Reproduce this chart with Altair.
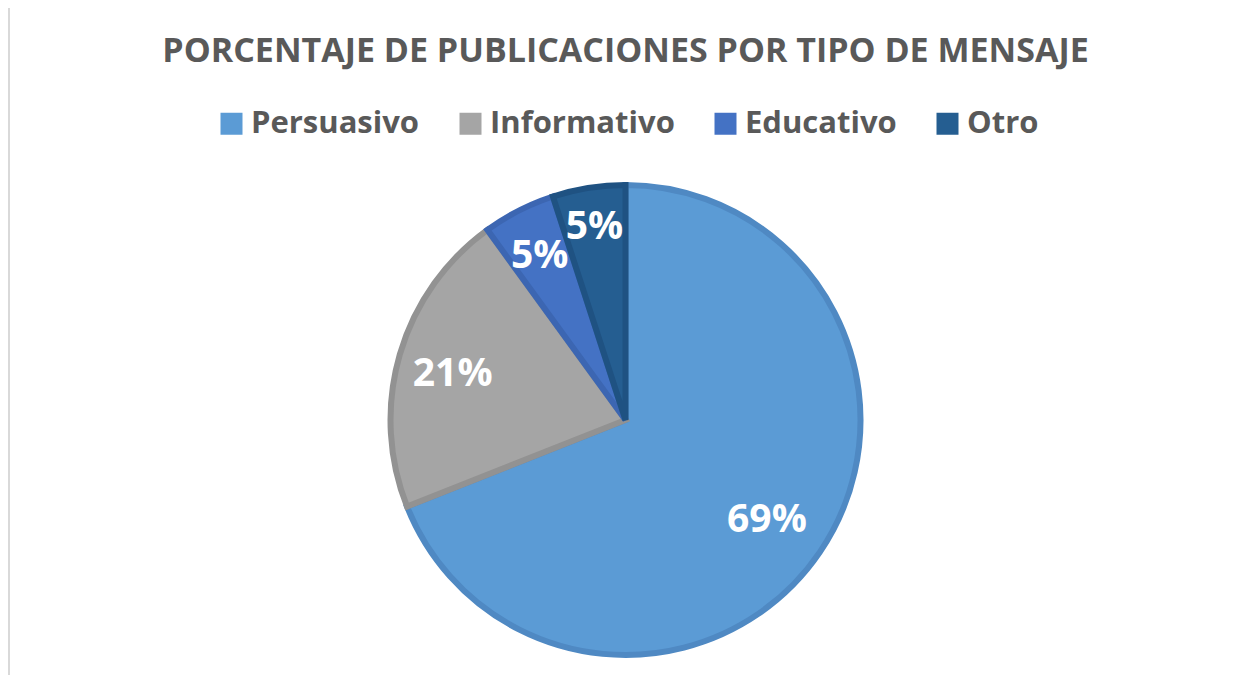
import math
import altair as alt
import pandas as pd

titulo = "PORCENTAJE DE PUBLICACIONES POR TIPO DE MENSAJE"
tipos = ["Persuasivo", "Informativo", "Educativo", "Otro"]
porcentajes = [69, 21, 5, 5]
etiquetas = ["69%", "21%", "5%", "5%"]
orden = [0, 1, 2, 3]
colores = ["#5B9BD5", "#A5A5A5", "#4472C4", "#255E91"]
bordes = ["#4F89C3", "#929292", "#3C66B2", "#1F5282"]

df = pd.DataFrame({"tipo": tipos, "pct": porcentajes, "etiqueta": etiquetas, "orden": orden})

FONT = "Open Sans"
CX, CY = 617.5, 408
theta_scale = alt.Scale(domain=[0, 100], range=[0, 2 * math.pi])

pie = alt.Chart(df).mark_arc(outerRadius=235, strokeWidth=6, strokeJoin="miter").encode(
    theta=alt.Theta("pct:Q", stack=True, scale=theta_scale),
    order=alt.Order("orden:O"),
    color=alt.Color(
        "tipo:N",
        sort=tipos,
        scale=alt.Scale(domain=tipos, range=colores),
        legend=alt.Legend(
            title=None,
            orient="none",
            direction="horizontal",
            legendX=208,
            legendY=96,
            symbolType="square",
            symbolSize=484,
            symbolStrokeWidth=0,
            labelFont=FONT,
            labelFontSize=31,
            labelFontWeight="bold",
            labelColor="#595959",
            labelOffset=4,
            labelLimit=0,
            columnPadding=35,
            padding=0,
        ),
    ),
    stroke=alt.Stroke("tipo:N", sort=tipos, scale=alt.Scale(domain=tipos, range=bordes), legend=None),
    x=alt.value(CX),
    y=alt.value(CY),
)

labels = alt.Chart(df).transform_window(
    acum="sum(pct)", sort=[alt.SortField("orden")], frame=[None, 0]
).transform_calculate(
    medio="datum.acum - datum.pct / 2",
    r_lab="datum.tipo == 'Persuasivo' ? 171 : datum.tipo == 'Informativo' ? 180 : datum.tipo == 'Educativo' ? 189 : 199",
).mark_text(
    font=FONT, fontSize=39, fontWeight="bold", color="white", dy=4
).encode(
    theta=alt.Theta("medio:Q", stack=None, scale=theta_scale),
    text="etiqueta:N",
    radius=alt.Radius("r_lab:Q", scale=None),
    x=alt.value(CX),
    y=alt.value(CY),
)

title = alt.Chart(alt.Data(values=[{"t": titulo}])).mark_text(
    font=FONT, fontSize=34, fontWeight="bold", color="#595959",
    baseline="alphabetic", align="center",
).encode(text="t:N", x=alt.value(CX), y=alt.value(50))

frame_top = alt.Chart(alt.Data(values=[{}])).mark_rule(color="#D9D9D9", strokeWidth=2).encode(
    x=alt.value(1), x2=alt.value(1220), y=alt.value(-6)
)
frame_left = alt.Chart(alt.Data(values=[{}])).mark_rule(color="#D9D9D9", strokeWidth=2).encode(
    x=alt.value(1), y=alt.value(-6), y2=alt.value(663)
)

chart = alt.layer(frame_top, frame_left, pie, labels, title).properties(
    width=1220,
    height=663,
    padding={"left": 0, "top": 4, "right": 0, "bottom": 0},
    autosize=alt.AutoSizeParams(type="none"),
).configure_view(stroke=None)

chart.save("out.html", embed_options={"renderer": "svg", "actions": False})
